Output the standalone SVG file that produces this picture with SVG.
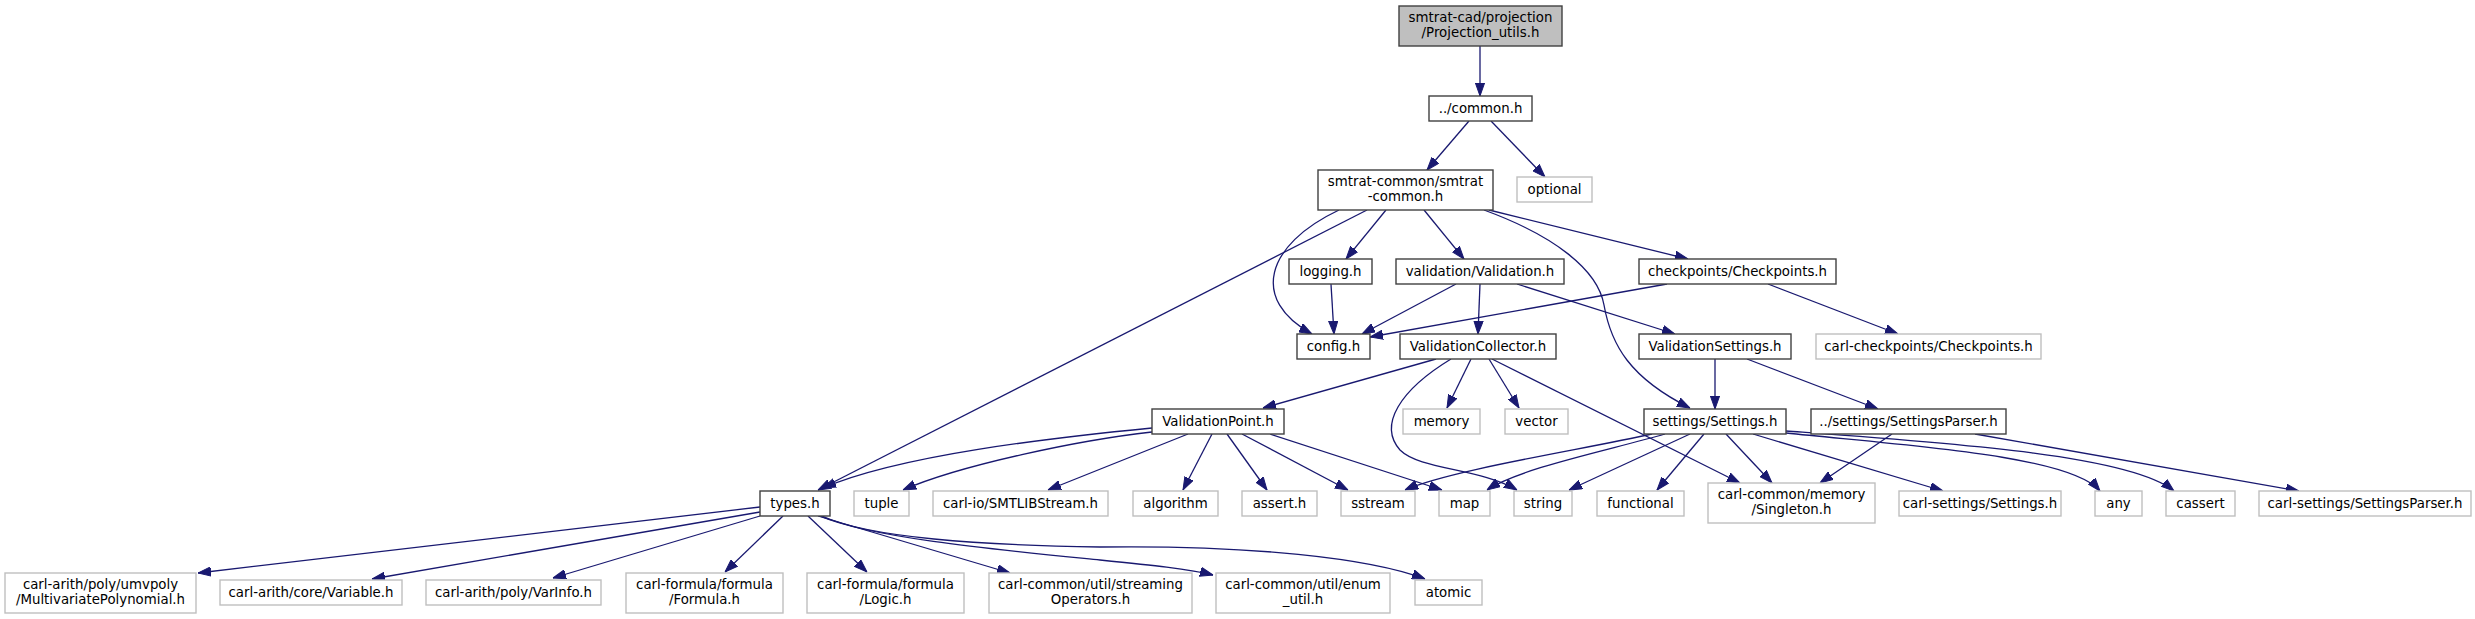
<svg xmlns="http://www.w3.org/2000/svg" width="2475" height="619" viewBox="0 0 2475 619">
<style>
.bg{fill:#ffffff}
.n rect{fill:#ffffff;stroke:#404040;stroke-width:1.4}
.x rect{fill:#ffffff;stroke:#bfbfbf;stroke-width:1.4}
.root rect{fill:#bfbfbf;stroke:#404040;stroke-width:1.4}
text{font-family:"DejaVu Sans","Liberation Sans",sans-serif;font-size:13.33px;fill:#000000;text-anchor:middle}
.e path{fill:none;stroke:#191970;stroke-width:1.3;marker-end:url(#arr)}
</style>
<defs>
<marker id="arr" viewBox="0 0 13 10" refX="13" refY="5" markerWidth="13" markerHeight="10" orient="auto" markerUnits="userSpaceOnUse">
<path d="M0,0.4 L13,5 L0,9.6 Z" fill="#191970" stroke="#191970" stroke-width="1"/>
</marker>
</defs>
<rect class="bg" x="0" y="0" width="2475" height="619"/>

<g id="edges" class="e">
<path d="M1480,46 L1480,96"/>
<path d="M1469,121 L1427,170"/>
<path d="M1491,121 L1545,177"/>
<path d="M1386,210 L1346,259"/>
<path d="M1424,210 L1464,259"/>
<path d="M1489,210 L1688,259"/>
<path d="M1339,210 C1265,245 1250,300 1312,334"/>
<path d="M1367,210 L818,490"/>
<path d="M1484,210 C1555,236 1598,270 1604,305 C1611,345 1630,378 1690,408"/>
<path d="M1331,284 L1334,334"/>
<path d="M1456,284 L1362,334"/>
<path d="M1480,284 L1478,334"/>
<path d="M1517,284 L1675,334"/>
<path d="M1667,284 L1370,337"/>
<path d="M1768,284 L1898,334"/>
<path d="M1436,359 L1263,408"/>
<path d="M1451,359 C1400,390 1378,425 1400,450 C1420,470 1480,468 1517,490"/>
<path d="M1471,359 L1447,408"/>
<path d="M1489,359 L1519,408"/>
<path d="M1492,359 L1740,483"/>
<path d="M1715,359 L1715,409"/>
<path d="M1747,359 L1878,409"/>
<path d="M1152,428 C1050,438 900,455 823,488"/>
<path d="M1152,432 C1080,440 960,465 903,490"/>
<path d="M1188,434 L1048,490"/>
<path d="M1212,434 L1183,490"/>
<path d="M1227,434 L1267,490"/>
<path d="M1242,434 L1348,490"/>
<path d="M1270,434 L1442,490"/>
<path d="M1652,434 C1580,450 1450,470 1405,490"/>
<path d="M1665,434 C1610,450 1520,468 1487,490"/>
<path d="M1690,434 L1569,490"/>
<path d="M1704,434 L1657,490"/>
<path d="M1726,434 L1772,483"/>
<path d="M1753,434 L1943,491"/>
<path d="M1786,433 C1900,445 2070,455 2100,491"/>
<path d="M1786,431 C1950,443 2130,455 2174,491"/>
<path d="M1892,434 L1820,483"/>
<path d="M1975,434 L2299,491"/>
<path d="M760,507 L198,573"/>
<path d="M760,512 L372,579"/>
<path d="M760,516 L553,578"/>
<path d="M783,516 L725,572"/>
<path d="M808,516 L867,572"/>
<path d="M818,516 L1010,573"/>
<path d="M820,516 C870,538 1000,550 1100,560 C1150,565 1190,569 1213,575"/>
<path d="M822,516 C870,538 980,545 1100,547 C1250,545 1370,558 1425,579"/>
</g>

<g id="n-projection-utils" class="root"><rect x="1399" y="6" width="163" height="40"/><text x="1480.5" y="22">smtrat-cad/projection</text><text x="1480.5" y="37">/Projection_utils.h</text></g>
<g id="n-common" class="n"><rect x="1429" y="96" width="103" height="25"/><text x="1480.5" y="113">../common.h</text></g>
<g id="n-smtrat-common" class="n"><rect x="1318" y="170" width="175" height="40"/><text x="1405.5" y="186">smtrat-common/smtrat</text><text x="1405.5" y="201">-common.h</text></g>
<g id="n-optional" class="x"><rect x="1517" y="177" width="75" height="25"/><text x="1554.5" y="194">optional</text></g>
<g id="n-logging" class="n"><rect x="1289" y="259" width="83" height="25"/><text x="1330.5" y="276">logging.h</text></g>
<g id="n-validation" class="n"><rect x="1396" y="259" width="168" height="25"/><text x="1480" y="276">validation/Validation.h</text></g>
<g id="n-checkpoints" class="n"><rect x="1639" y="259" width="197" height="25"/><text x="1737.5" y="276">checkpoints/Checkpoints.h</text></g>
<g id="n-config" class="n"><rect x="1297" y="334" width="73" height="25"/><text x="1333.5" y="351">config.h</text></g>
<g id="n-validation-collector" class="n"><rect x="1400" y="334" width="156" height="25"/><text x="1478" y="351">ValidationCollector.h</text></g>
<g id="n-validation-settings" class="n"><rect x="1639" y="334" width="152" height="25"/><text x="1715" y="351">ValidationSettings.h</text></g>
<g id="n-carl-checkpoints" class="x"><rect x="1816" y="334" width="225" height="25"/><text x="1928.5" y="351">carl-checkpoints/Checkpoints.h</text></g>
<g id="n-validation-point" class="n"><rect x="1152" y="409" width="132" height="25"/><text x="1218" y="426">ValidationPoint.h</text></g>
<g id="n-memory" class="x"><rect x="1403" y="409" width="77" height="25"/><text x="1441.5" y="426">memory</text></g>
<g id="n-vector" class="x"><rect x="1505" y="409" width="63" height="25"/><text x="1536.5" y="426">vector</text></g>
<g id="n-settings" class="n"><rect x="1644" y="409" width="142" height="25"/><text x="1715" y="426">settings/Settings.h</text></g>
<g id="n-settings-parser" class="n"><rect x="1811" y="409" width="195" height="25"/><text x="1908.5" y="426">../settings/SettingsParser.h</text></g>
<g id="n-types" class="n"><rect x="760" y="491" width="70" height="25"/><text x="795" y="508">types.h</text></g>
<g id="n-tuple" class="x"><rect x="854" y="491" width="55" height="25"/><text x="881.5" y="508">tuple</text></g>
<g id="n-smtlibstream" class="x"><rect x="933" y="491" width="175" height="25"/><text x="1020.5" y="508">carl-io/SMTLIBStream.h</text></g>
<g id="n-algorithm" class="x"><rect x="1133" y="491" width="85" height="25"/><text x="1175.5" y="508">algorithm</text></g>
<g id="n-assert" class="x"><rect x="1242" y="491" width="75" height="25"/><text x="1279.5" y="508">assert.h</text></g>
<g id="n-sstream" class="x"><rect x="1341" y="491" width="74" height="25"/><text x="1378" y="508">sstream</text></g>
<g id="n-map" class="x"><rect x="1439" y="491" width="51" height="25"/><text x="1464.5" y="508">map</text></g>
<g id="n-string" class="x"><rect x="1514" y="491" width="58" height="25"/><text x="1543" y="508">string</text></g>
<g id="n-functional" class="x"><rect x="1597" y="491" width="87" height="25"/><text x="1640.5" y="508">functional</text></g>
<g id="n-singleton" class="x"><rect x="1708" y="483" width="167" height="40"/><text x="1791.5" y="499">carl-common/memory</text><text x="1791.5" y="514">/Singleton.h</text></g>
<g id="n-carl-settings" class="x"><rect x="1899" y="491" width="162" height="25"/><text x="1980" y="508">carl-settings/Settings.h</text></g>
<g id="n-any" class="x"><rect x="2095" y="491" width="47" height="25"/><text x="2118.5" y="508">any</text></g>
<g id="n-cassert" class="x"><rect x="2166" y="491" width="69" height="25"/><text x="2200.5" y="508">cassert</text></g>
<g id="n-carl-settings-parser" class="x"><rect x="2259" y="491" width="212" height="25"/><text x="2365" y="508">carl-settings/SettingsParser.h</text></g>
<g id="n-multivariate" class="x"><rect x="5" y="573" width="191" height="40"/><text x="100.5" y="589">carl-arith/poly/umvpoly</text><text x="100.5" y="604">/MultivariatePolynomial.h</text></g>
<g id="n-variable" class="x"><rect x="220" y="580" width="182" height="25"/><text x="311" y="597">carl-arith/core/Variable.h</text></g>
<g id="n-varinfo" class="x"><rect x="426" y="580" width="175" height="25"/><text x="513.5" y="597">carl-arith/poly/VarInfo.h</text></g>
<g id="n-formula" class="x"><rect x="626" y="573" width="157" height="40"/><text x="704.5" y="589">carl-formula/formula</text><text x="704.5" y="604">/Formula.h</text></g>
<g id="n-logic" class="x"><rect x="807" y="573" width="157" height="40"/><text x="885.5" y="589">carl-formula/formula</text><text x="885.5" y="604">/Logic.h</text></g>
<g id="n-streaming" class="x"><rect x="989" y="573" width="203" height="40"/><text x="1090.5" y="589">carl-common/util/streaming</text><text x="1090.5" y="604">Operators.h</text></g>
<g id="n-enum-util" class="x"><rect x="1216" y="573" width="174" height="40"/><text x="1303" y="589">carl-common/util/enum</text><text x="1303" y="604">_util.h</text></g>
<g id="n-atomic" class="x"><rect x="1415" y="580" width="67" height="25"/><text x="1448.5" y="597">atomic</text></g>
</svg>
